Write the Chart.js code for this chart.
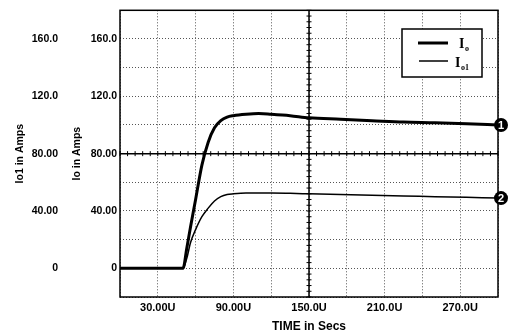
<!DOCTYPE html>
<html>
<head>
<meta charset="utf-8">
<script src="https://cdn.jsdelivr.net/npm/chart.js@4/dist/chart.umd.min.js"></script>
<style>
  html, body { margin: 0; padding: 0; background: #fff; }
  canvas { display: block; }
</style>
</head>
<body>
<canvas id="chart" width="512" height="334"></canvas>
<script>
// time in microseconds
const timeUs = [0, 50, 53, 56, 60, 65, 70, 75, 80, 85, 90, 100, 110, 120, 135, 150, 175, 200, 225, 250, 275, 300];
// output current Io (curve 1)
const ioAmps = [0, 0, 14, 29, 48, 72, 88, 98, 103, 105.5, 106.5, 107.5, 108, 107.5, 106.5, 105, 104, 103, 102, 101.5, 100.8, 100];
// output current Io1 (curve 2)
const io1Amps = [0, 0, 7, 18, 27, 36, 42, 47, 50, 51.5, 52, 52.5, 52.5, 52.5, 52.3, 52, 51.5, 51, 50.5, 50, 49.5, 49];

const yLabelValues = [0, 40, 80, 120, 160];
const xLabelValues = [30, 90, 150, 210, 270];

function toPoints(xs, ys) {
  return xs.map((x, i) => ({x: x, y: ys[i]}));
}

function yFmt(v) {
  if (!yLabelValues.includes(v)) return '';
  return v === 0 ? '0' : v.toPrecision(4);
}

// frame, crosshair, legend box and curve markers
const scopePlugin = {
  id: 'scope',
  beforeDatasetsDraw(chart) {
    const ctx = chart.ctx;
    const xs = chart.scales.x, ys = chart.scales.y;
    const a = chart.chartArea;
    const cx = xs.getPixelForValue(150);
    const cy = ys.getPixelForValue(80);
    ctx.save();
    ctx.strokeStyle = '#000';
    ctx.lineWidth = 1.5;
    ctx.beginPath();
    ctx.moveTo(a.left, cy); ctx.lineTo(a.right, cy);
    ctx.moveTo(cx, a.top); ctx.lineTo(cx, a.bottom);
    ctx.stroke();
    ctx.lineWidth = 1;
    ctx.beginPath();
    for (let t = 0; t <= 300; t += 6) {
      const px = xs.getPixelForValue(t);
      ctx.moveTo(px, cy - 2.5); ctx.lineTo(px, cy + 2.5);
    }
    for (let v = -20; v <= 180; v += 4) {
      const py = ys.getPixelForValue(v);
      ctx.moveTo(cx - 2.5, py); ctx.lineTo(cx + 2.5, py);
    }
    ctx.stroke();
    ctx.restore();
  },
  afterDraw(chart) {
    const ctx = chart.ctx;
    const a = chart.chartArea;
    const ys = chart.scales.y;
    ctx.save();
    // frame
    ctx.strokeStyle = '#000';
    ctx.lineWidth = 1.5;
    ctx.strokeRect(a.left, a.top, a.right - a.left, a.bottom - a.top);

    // legend
    const lx = 402, ly = 29, lw = 80, lh = 48;
    ctx.fillStyle = '#fff';
    ctx.fillRect(lx, ly, lw, lh);
    ctx.lineWidth = 1.5;
    ctx.strokeRect(lx, ly, lw, lh);
    ctx.lineWidth = 3;
    ctx.beginPath(); ctx.moveTo(418, 43); ctx.lineTo(448, 43); ctx.stroke();
    ctx.lineWidth = 1.5;
    ctx.beginPath(); ctx.moveTo(419, 61); ctx.lineTo(448, 61); ctx.stroke();
    ctx.fillStyle = '#000';
    ctx.textBaseline = 'alphabetic';
    ctx.textAlign = 'left';
    ctx.font = 'bold 14px "Liberation Serif"';
    ctx.fillText('I', 459, 48);
    ctx.fillText('I', 455, 67);
    ctx.font = 'bold 8px "Liberation Serif"';
    ctx.fillText('o', 465, 51);
    ctx.fillText('o1', 461, 70);

    // circled curve markers
    const marks = [
      {label: '1', v: ioAmps[ioAmps.length - 1]},
      {label: '2', v: io1Amps[io1Amps.length - 1]}
    ];
    marks.forEach(m => {
      const px = a.right + 3;
      const py = ys.getPixelForValue(m.v);
      ctx.beginPath();
      ctx.arc(px, py, 7, 0, Math.PI * 2);
      ctx.fillStyle = '#000';
      ctx.fill();
      ctx.fillStyle = '#fff';
      ctx.font = 'bold 11px "Liberation Sans"';
      ctx.textAlign = 'center';
      ctx.textBaseline = 'middle';
      ctx.fillText(m.label, px, py + 0.5);
    });
    ctx.restore();
  }
};

new Chart(document.getElementById('chart'), {
  type: 'line',
  data: {
    datasets: [{
      label: 'Io',
      data: toPoints(timeUs, ioAmps),
      borderColor: '#000',
      borderWidth: 3,
      pointRadius: 0,
      cubicInterpolationMode: 'monotone',
      yAxisID: 'y'
    }, {
      label: 'Io1',
      data: toPoints(timeUs, io1Amps),
      borderColor: '#000',
      borderWidth: 1.5,
      pointRadius: 0,
      cubicInterpolationMode: 'monotone',
      yAxisID: 'y'
    }]
  },
  options: {
    responsive: false,
    animation: false,
    devicePixelRatio: 1,
    layout: { padding: { top: 9, right: 14, left: 0, bottom: 0 } },
    plugins: {
      legend: { display: false },
      tooltip: { enabled: false }
    },
    scales: {
      x: {
        type: 'linear',
        min: 0,
        max: 300,
        afterFit: (s) => { s.height = 37; },
        grid: { color: '#555', lineWidth: 1, drawTicks: false },
        border: { display: false, dash: [1, 2] },
        ticks: {
          stepSize: 30,
          autoSkip: false,
          maxRotation: 0,
          padding: 4,
          color: '#000',
          font: { family: '"Liberation Sans"', size: 11, weight: 'bold' },
          callback: (v) => xLabelValues.includes(v) ? v.toPrecision(4) + 'U' : ''
        },
        title: {
          display: true,
          text: 'TIME in Secs',
          color: '#000',
          padding: { top: 2, bottom: 0 },
          font: { family: '"Liberation Sans"', size: 12, weight: 'bold' }
        }
      },
      y: {
        position: 'left',
        weight: 0,
        min: -20,
        max: 180,
        afterFit: (s) => { s.width = 58; },
        grid: { color: '#555', lineWidth: 1, drawTicks: false },
        border: { display: false, dash: [1, 2] },
        ticks: {
          stepSize: 20,
          autoSkip: false,
          padding: 3,
          color: '#000',
          font: { family: '"Liberation Sans"', size: 10.5, weight: 'bold' },
          callback: yFmt
        },
        title: {
          display: true,
          text: 'Io in Amps',
          color: '#000',
          padding: { top: 9, bottom: 0 },
          font: { family: '"Liberation Sans"', size: 10.5, weight: 'bold' }
        }
      },
      y1: {
        position: 'left',
        weight: 1,
        min: -20,
        max: 180,
        afterFit: (s) => { s.width = 62; },
        grid: { display: false, drawOnChartArea: false, drawTicks: false },
        border: { display: false },
        ticks: {
          stepSize: 20,
          autoSkip: false,
          padding: 4,
          color: '#000',
          font: { family: '"Liberation Sans"', size: 10.5, weight: 'bold' },
          callback: yFmt
        },
        title: {
          display: true,
          text: 'Io1 in Amps',
          color: '#000',
          padding: { top: 14, bottom: 0 },
          font: { family: '"Liberation Sans"', size: 10.5, weight: 'bold' }
        }
      }
    }
  },
  plugins: [scopePlugin]
});
</script>
</body>
</html>
